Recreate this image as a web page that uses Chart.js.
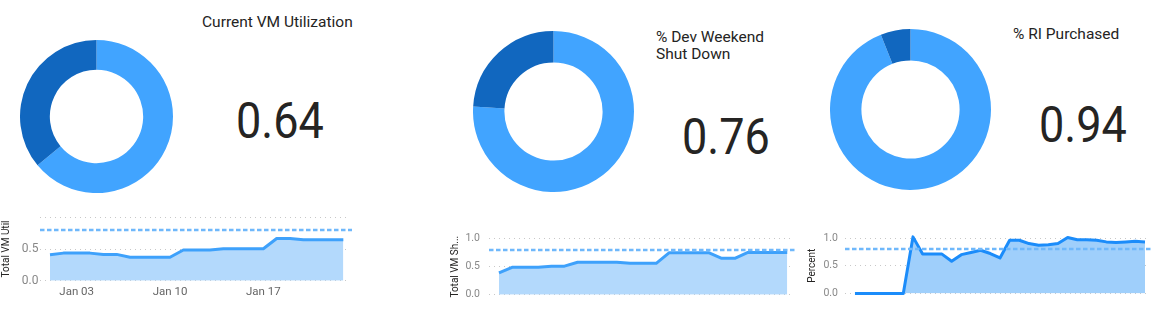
<!DOCTYPE html>
<html>
<head>
<meta charset="utf-8">
<script src="https://cdn.jsdelivr.net/npm/chart.js@4.4.0/dist/chart.umd.min.js"></script>
<style>
  html, body { margin: 0; padding: 0; background: #fff; }
  body { width: 1157px; height: 323px; position: relative; overflow: hidden; }
  .box { position: absolute; }
  .title { position: absolute; font-family: Roboto, 'Noto Sans', sans-serif; font-size: 15.5px; line-height: 17px; color: #252423; }
  .kpi { position: absolute; font-family: Roboto, sans-serif; font-size: 50px; line-height: 50px; color: #252423;
         transform: scaleX(0.9); transform-origin: left top; }
</style>
</head>
<body>

<div class="box" style="left:20px;top:40px;width:153px;height:153px"><canvas id="donut-1"></canvas></div>
<div class="box" style="left:473px;top:31px;width:161px;height:161px"><canvas id="donut-2"></canvas></div>
<div class="box" style="left:830px;top:29px;width:161px;height:161px"><canvas id="donut-3"></canvas></div>

<div class="title" style="left:202px;top:14px">Current VM Utilization</div>
<div class="title" style="left:656px;top:29px">% Dev Weekend<br>Shut Down</div>
<div class="title" style="left:1013px;top:26px">% RI Purchased</div>

<div class="kpi" id="kpi-1" style="left:236px;top:96px"></div>
<div class="kpi" id="kpi-2" style="left:682px;top:112px"></div>
<div class="kpi" id="kpi-3" style="left:1039px;top:100px"></div>

<div class="box" style="left:0px;top:205px;width:355px;height:100px"><canvas id="line-1"></canvas></div>
<div class="box" style="left:449px;top:228px;width:352px;height:75px"><canvas id="line-2"></canvas></div>
<div class="box" style="left:806px;top:226px;width:351px;height:77px"><canvas id="line-3"></canvas></div>

<script>
// KPI values (share of the ring in the light colour)
const kpiValues = [0.64, 0.76, 0.94];

// daily series
const vmUtilDates = ['Jan 01','Jan 02','Jan 03','Jan 04','Jan 05','Jan 06','Jan 07','Jan 08','Jan 09','Jan 10',
                     'Jan 11','Jan 12','Jan 13','Jan 14','Jan 15','Jan 16','Jan 17','Jan 18','Jan 19','Jan 20',
                     'Jan 21','Jan 22','Jan 23'];
const vmUtilTicks = ['Jan 03', 'Jan 10', 'Jan 17'];
const vmUtil      = [0.41, 0.435, 0.435, 0.435, 0.415, 0.415, 0.37, 0.37, 0.37, 0.37, 0.485, 0.485,
                     0.485, 0.505, 0.505, 0.505, 0.505, 0.665, 0.665, 0.645, 0.645, 0.645, 0.645];
const devShutdown = [0.39, 0.49, 0.49, 0.49, 0.51, 0.51, 0.58, 0.58, 0.58, 0.58, 0.56, 0.56,
                     0.56, 0.75, 0.75, 0.75, 0.75, 0.65, 0.65, 0.755, 0.755, 0.755, 0.755];
const riPurchased = [0, 0, 0, 0, 0, 0, 1.02, 0.71, 0.71, 0.71, 0.58, 0.70, 0.74, 0.78, 0.72, 0.64,
                     0.96, 0.96, 0.90, 0.87, 0.88, 0.90, 1.01, 0.97, 0.97, 0.96, 0.93, 0.92, 0.93, 0.94, 0.93];
const yTicks = [0, 0.5, 1];
const target = 0.8;

const LIGHT = '#41a4ff';
const DARK  = '#1167bf';

kpiValues.forEach((v, i) => {
  document.getElementById('kpi-' + (i + 1)).textContent = v.toFixed(2);
  new Chart(document.getElementById('donut-' + (i + 1)), {
    type: 'doughnut',
    data: { datasets: [{ data: [v, 1 - v], backgroundColor: [LIGHT, DARK], borderWidth: 0 }] },
    options: {
      responsive: true, maintainAspectRatio: false, animation: false,
      cutout: '61%',
      plugins: { legend: { display: false }, tooltip: { enabled: false } },
    },
  });
});

// dashed constant line drawn through the y scale
const targetLine = {
  id: 'targetLine',
  afterDatasetsDraw(chart) {
    const { ctx, chartArea, scales } = chart;
    const y = scales.y.getPixelForValue(target);
    ctx.save();
    ctx.strokeStyle = '#6fb8fb';
    ctx.lineWidth = 2.5;
    ctx.setLineDash([4.5, 2.5]);
    ctx.beginPath();
    ctx.moveTo(chartArea.left, y);
    ctx.lineTo(chartArea.right + 4, y);
    ctx.stroke();
    ctx.restore();
  },
};

function lineChart(id, values, o) {
  return new Chart(document.getElementById(id), {
    type: 'line',
    data: {
      datasets: [{
        data: values.map((v, i) => ({ x: i, y: v })),
        borderColor: o.line,
        backgroundColor: o.fill,
        borderWidth: 3,
        fill: 'origin',
        tension: 0,
        pointRadius: 0,
        clip: false,
        borderJoinStyle: 'round',
      }],
    },
    plugins: [targetLine],
    options: {
      responsive: true, maintainAspectRatio: false, animation: false,
      layout: { padding: o.padding },
      plugins: { legend: { display: false }, tooltip: { enabled: false } },
      scales: {
        x: {
          type: 'linear', min: o.xMin, max: o.xMax,
          display: !!o.xTicks,
          grid: { display: false, drawTicks: false },
          border: { display: false },
          afterBuildTicks: s => { if (o.xTicks) s.ticks = o.xTicks.map(t => ({ value: vmUtilDates.indexOf(t) })); },
          afterFit: s => { s.height = o.xTicks ? 24.3 : 0; },
          ticks: {
            color: '#666', font: { family: 'Roboto', size: 11.5 }, padding: 5, maxRotation: 0,
            callback: v => vmUtilDates[v],
          },
        },
        y: {
          min: 0, max: 1,
          afterBuildTicks: s => { s.ticks = yTicks.map(v => ({ value: v })); },
          afterFit: s => { s.width = o.yWidth; },
          // invisible tick marks keep the labels off the plot without padding the scale's height
          grid: { color: '#c8c8c8', drawTicks: true, tickLength: o.tickGap, tickColor: 'rgba(0,0,0,0)', lineWidth: 1 },
          border: { display: false, dash: [1, 4] },
          ticks: {
            color: '#888', font: { family: 'Roboto', size: o.tickSize }, padding: 0,
            callback: v => (o.hideTop && v === 1) ? '' : v.toFixed(1),
          },
          title: {
            display: true, text: o.title, color: '#252423',
            font: { family: 'Roboto', size: 10 }, padding: { top: 0, bottom: 0 },
          },
        },
      },
    },
  });
}

lineChart('line-1', vmUtil, {
  line: '#3ea1fb', fill: '#b3d9fc', title: 'Total VM Util',
  padding: { top: 12.3, right: 7, bottom: 0, left: 0 },
  xMin: -0.75, xMax: 22.35, xTicks: vmUtilTicks,
  yWidth: 40, tickSize: 12, tickGap: 1.5, hideTop: true,
});

lineChart('line-2', devShutdown, {
  line: '#3ea1fb', fill: '#b3d9fc', title: 'Total VM Sh...',
  padding: { top: 10.7, right: 8, bottom: 8.3, left: 0 },
  xMin: -0.76, xMax: 22.44,
  yWidth: 40, tickSize: 10.5, tickGap: 9,
});

lineChart('line-3', riPurchased, {
  line: '#1b8cfa', fill: '#9fcffb', title: 'Percent',
  padding: { top: 12, right: 9, bottom: 9.5, left: 0 },
  xMin: -1.03, xMax: 30.31,
  yWidth: 39, tickSize: 10.5, tickGap: 7,
});
</script>
</body>
</html>
